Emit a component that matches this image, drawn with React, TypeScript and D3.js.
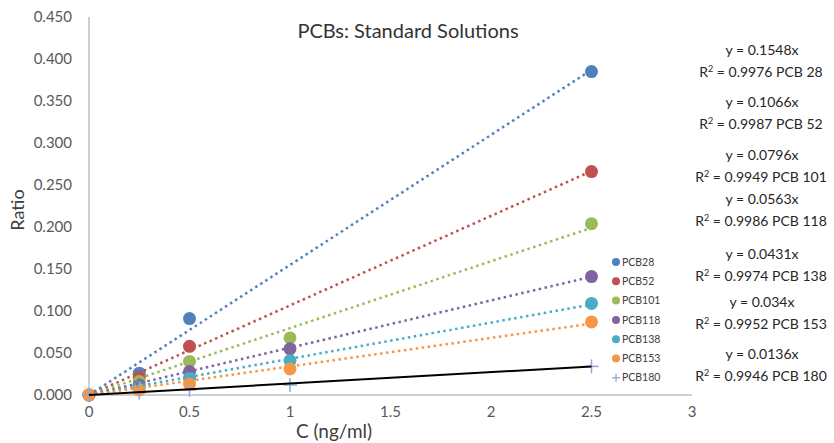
import * as d3 from 'd3';

const xValues = [0, 0.25, 0.5, 1, 2.5];
const seriesNames = ['PCB28', 'PCB52', 'PCB101', 'PCB118', 'PCB138', 'PCB153', 'PCB180'];
const colors = ['#4F81BD', '#C0504D', '#9BBB59', '#8064A2', '#4BACC6', '#F79646', '#8EA9D8'];
// null = no point measured
const pcb28 = [0, 0.026, 0.091, null, 0.385];
const pcb52 = [0, 0.021, 0.058, null, 0.266];
const pcb101 = [0, 0.016, 0.040, 0.068, 0.204];
const pcb118 = [0, 0.012, 0.028, 0.055, 0.141];
const pcb138 = [0, 0.009, 0.020, 0.041, 0.109];
const pcb153 = [0, 0.006, 0.013, 0.031, 0.087];
const pcb180 = [0, 0.003, 0.006, 0.012, 0.034];
const seriesValues = [pcb28, pcb52, pcb101, pcb118, pcb138, pcb153, pcb180];
const slopes = [0.1548, 0.1066, 0.0796, 0.0563, 0.0431, 0.034, 0.0136];
const r2 = ['0.9976', '0.9987', '0.9949', '0.9986', '0.9974', '0.9952', '0.9946'];
const labelNames = ['PCB 28', 'PCB 52', 'PCB 101', 'PCB 118', 'PCB 138', 'PCB 153', 'PCB 180'];
const yTicks = d3.range(0, 0.4501, 0.05);
const xTicks = [0, 0.5, 1, 1.5, 2, 2.5, 3];

const width = 834;
const height = 443;
const font = 'Lato, "Open Sans", sans-serif';

export default function App() {
  const x = d3.scaleLinear().domain([0, 3]).range([89, 692]);
  const y = d3.scaleLinear().domain([0, 0.45]).range([395, 17]);

  // vertical positions of the equation labels at the right
  const eqY = [50, 102, 155, 199, 254, 302, 354];

  return (
    <svg width={width} height={height} style={{ position: 'absolute', left: 0, top: 0, background: '#fff' }}>
      {/* axes */}
      <line x1={x(0)} x2={x(0)} y1={y(0.45)} y2={y(0)} stroke="#bfbfbf" strokeWidth={1.5} />
      <line x1={x(0)} x2={x(3)} y1={y(0)} y2={y(0)} stroke="#bfbfbf" strokeWidth={1.5} />
      {yTicks.map(t => (
        <text key={t} x={72} y={y(t)} dy="0.35em" textAnchor="end" fontSize={15} fill="#595959" fontFamily={font}>
          {t.toFixed(3)}
        </text>
      ))}
      {xTicks.map(t => (
        <text key={t} x={x(t)} y={417} textAnchor="middle" fontSize={15} fill="#595959" fontFamily={font}>
          {t}
        </text>
      ))}
      <text x={334} y={438} textAnchor="middle" fontSize={19} fill="#404040" fontFamily={font}>C (ng/ml)</text>
      <text transform={`translate(24,210) rotate(-90)`} textAnchor="middle" fontSize={18} fill="#404040" fontFamily={font}>Ratio</text>
      <text x={408} y={38} textAnchor="middle" fontSize={20} fill="#333" fontFamily={font}>PCBs: Standard Solutions</text>

      {/* markers */}
      {seriesValues.map((vals, i) =>
        vals.map((v, j) => {
          if (v === null) return null;
          const cx = x(xValues[j]);
          const cy = y(v);
          if (i === 6) {
            return (
              <g key={`${i}-${j}`} stroke={colors[i]} strokeWidth={1.5}>
                <line x1={cx - 7} x2={cx + 7} y1={cy} y2={cy} />
                <line x1={cx} x2={cx} y1={cy - 7} y2={cy + 7} />
              </g>
            );
          }
          return <circle key={`${i}-${j}`} cx={cx} cy={cy} r={6.5} fill={colors[i]} />;
        })
      )}

      {/* trendlines */}
      {slopes.map((s, i) => (
        <line
          key={`t${i}`}
          x1={x(0)}
          y1={y(0)}
          x2={x(2.5)}
          y2={y(s * 2.5)}
          stroke={i === 6 ? '#000' : colors[i]}
          strokeWidth={i === 6 ? 2 : 2.5}
          strokeDasharray={i === 6 ? undefined : '2.5 3.5'}
        />
      ))}

      {/* legend */}
      {seriesNames.map((n, i) => {
        const ly = 262 + i * 19.3;
        return (
          <g key={n}>
            {i === 6 ? (
              <g stroke={colors[i]} strokeWidth={1.3}>
                <line x1={612} x2={620} y1={ly} y2={ly} />
                <line x1={616} x2={616} y1={ly - 4} y2={ly + 4} />
              </g>
            ) : (
              <circle cx={616} cy={ly} r={4} fill={colors[i]} />
            )}
            <text x={622} y={ly} dy="0.35em" fontSize={10.5} fill="#404040" fontFamily={font}>{n}</text>
          </g>
        );
      })}

      {/* equations */}
      {slopes.map((s, i) => (
        <g key={`e${i}`} fontFamily={font} fontSize={14} fill="#262626" textAnchor="middle">
          <text x={762} y={eqY[i]} dy="0.35em">y = {s}x</text>
          <text x={761} y={eqY[i] + 22} dy="0.35em">
            R<tspan dy="-5" fontSize={9}>2</tspan><tspan dy="5"> = {r2[i]} {labelNames[i]}</tspan>
          </text>
        </g>
      ))}
    </svg>
  );
}
